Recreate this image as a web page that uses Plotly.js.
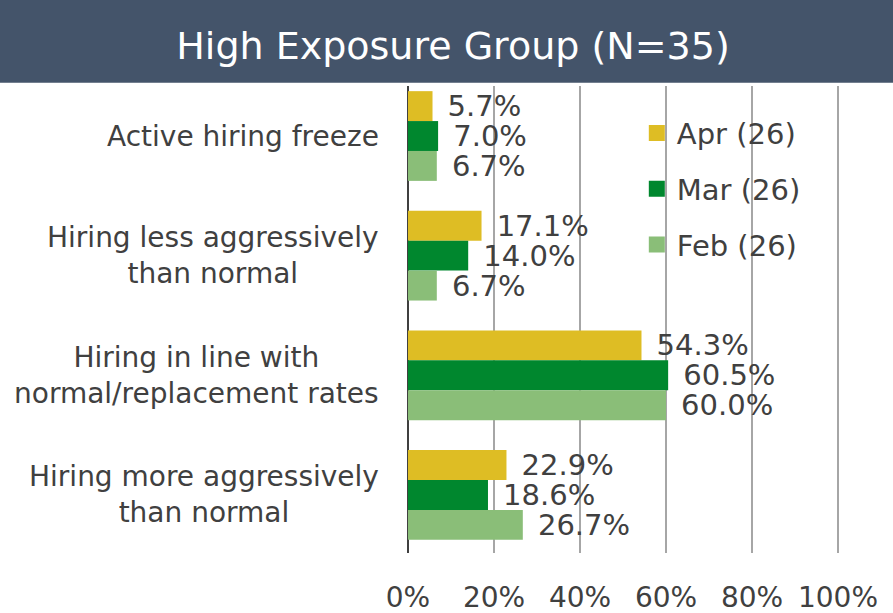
<!DOCTYPE html>
<html>
<head>
<meta charset="utf-8">
<script src="https://cdn.plot.ly/plotly-3.0.1.min.js"></script>
<style>html,body{margin:0;padding:0;background:#fff}#chart{width:893px;height:613px}</style>
</head>
<body>
<div id="chart"></div>
<script>
const categories = [
  "Active hiring freeze",
  "Hiring less aggressively<br>than normal",
  "Hiring in line with<br>normal/replacement rates",
  "Hiring more aggressively<br>than normal"
];
const seriesNames = ["Apr (26)", "Mar (26)", "Feb (26)"];
const aprValues = [5.7, 17.1, 54.3, 22.9];
const marValues = [7.0, 14.0, 60.5, 18.6];
const febValues = [6.7, 6.7, 60.0, 26.7];
const tickValues = [0, 20, 40, 60, 80, 100];
const tickLabels = ["0%", "20%", "40%", "60%", "80%", "100%"];
const colors = ["#DEBD24", "#00872E", "#8ABE78"];
const seriesValues = [aprValues, marValues, febValues];

const FONT = "DejaVu Sans, sans-serif";
const TXT = "#404040";

const traces = [];
seriesValues.forEach((vals, i) => {
  traces.push({
    type: "bar",
    orientation: "h",
    name: seriesNames[i],
    y: categories,
    x: vals,
    marker: {color: colors[i]},
    text: vals.map(v => "\u00a0\u200a" + v.toFixed(1) + "%"),
    textposition: "outside",
    constraintext: "none",
    cliponaxis: false,
    textfont: {family: FONT, size: 29, color: TXT},
    showlegend: false,
    hoverinfo: "skip"
  });
});
seriesNames.forEach((n, i) => {
  traces.push({
    type: "scatter",
    mode: "markers",
    name: n,
    x: [null],
    y: [null],
    legendgroup: "g" + i,
    marker: {symbol: "square", size: 16, color: colors[i]},
    showlegend: true,
    hoverinfo: "skip"
  });
});

const annotations = categories.map(c => ({
  xref: "paper", yref: "y",
  x: 0, y: c,
  xanchor: "right", yanchor: "middle",
  xshift: -27,
  align: "center",
  showarrow: false,
  text: c,
  font: {family: FONT, size: 28, color: TXT}
}));

const layout = {
  width: 893, height: 613,
  paper_bgcolor: "#ffffff",
  plot_bgcolor: "#ffffff",
  margin: {l: 408, r: 50, t: 86, b: 60, pad: 0},
  barmode: "group",
  bargap: 0.25,
  bargroupgap: 0,
  title: {
    text: "High Exposure Group (N=35)",
    font: {family: FONT, size: 38, color: "#ffffff"},
    xref: "container", yref: "container",
    x: 453 / 893, xanchor: "center",
    y: 1 - 46 / 613, yanchor: "middle"
  },
  xaxis: {
    range: [0, 101.163],
    tickvals: tickValues,
    ticktext: tickLabels,
    showgrid: true,
    gridcolor: "#A6A6A6",
    gridwidth: 2,
    zeroline: true,
    zerolinecolor: "#404040",
    zerolinewidth: 2,
    showline: false,
    ticks: "",
    ticklabelstandoff: 25,
    tickfont: {family: FONT, size: 28, color: TXT},
    fixedrange: true
  },
  yaxis: {
    type: "category",
    categoryorder: "array",
    categoryarray: categories,
    range: [3.485, -0.418],
    showticklabels: false,
    showgrid: false,
    zeroline: false,
    showline: false,
    ticks: "",
    fixedrange: true
  },
  legend: {
    x: 0.526, xanchor: "left",
    y: 0.9536, yanchor: "top",
    bgcolor: "rgba(0,0,0,0)",
    font: {family: FONT, size: 29, color: TXT},
    tracegroupgap: 15,
    traceorder: "grouped"
  },
  shapes: [{
    type: "rect", xref: "paper", yref: "paper",
    x0: -0.9395, x1: 1.13, y0: 1.007, y1: 1.2,
    fillcolor: "#44546A", line: {width: 0}, layer: "below"
  }],
  annotations: annotations,
  showlegend: true
};

Plotly.newPlot("chart", traces, layout, {displayModeBar: false, staticPlot: true});
</script>
</body>
</html>
